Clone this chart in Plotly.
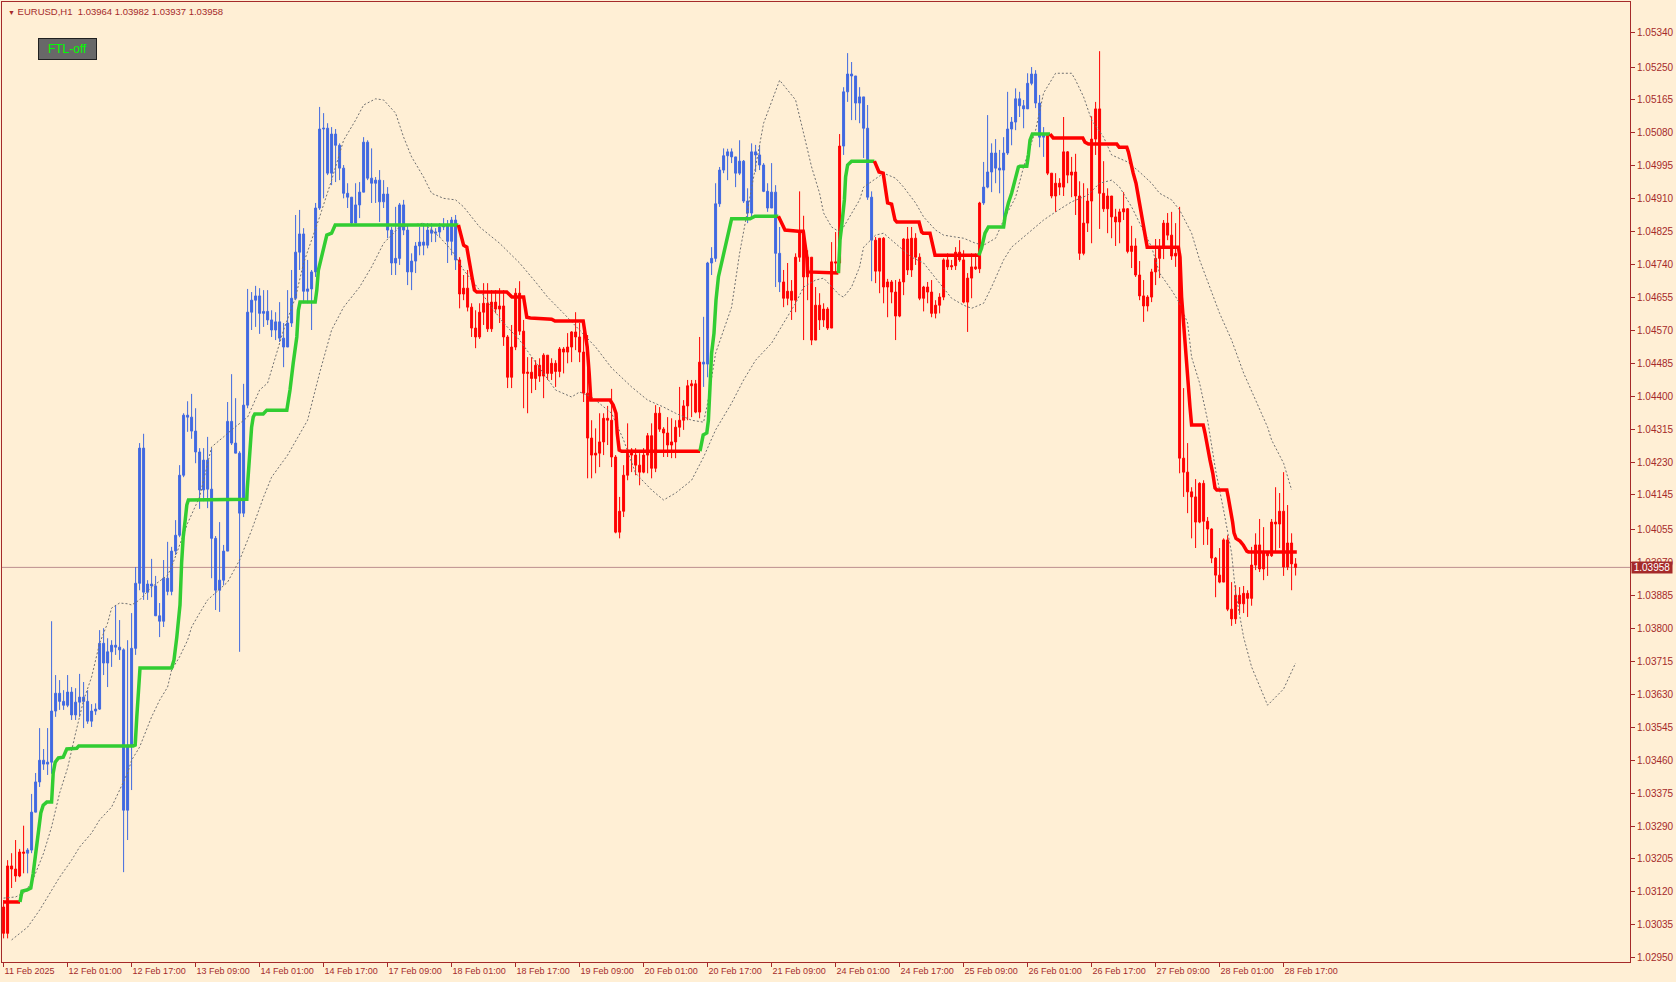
import plotly.graph_objects as go

# EURUSD H1, 11 Feb 2025 09:00 .. 28 Feb 2025 20:00 (one entry per hourly bar)
first_open = 1.03081

closes = [
    1.03013, 1.03187, 1.03179, 1.03161, 1.03223, 1.03220, 1.03228, 1.03326, 1.03404, 1.03460,
    1.03450, 1.03455, 1.03587, 1.03633, 1.03612, 1.03602, 1.03636, 1.03577, 1.03610, 1.03623,
    1.03612, 1.03561, 1.03587, 1.03592, 1.03762, 1.03711, 1.03740, 1.03757, 1.03752, 1.03745,
    1.03331, 1.03499, 1.03749, 1.03917, 1.04266, 1.03894, 1.03915, 1.03910, 1.03833, 1.03819,
    1.03930, 1.03896, 1.04000, 1.04041, 1.04196, 1.04351, 1.04346, 1.04310, 1.04256, 1.04158,
    1.04235, 1.04160, 1.04033, 1.03899, 1.03925, 1.04000, 1.04335, 1.04279, 1.04253, 1.04098,
    1.04377, 1.04617, 1.04648, 1.04659, 1.04614, 1.04619, 1.04597, 1.04571, 1.04592, 1.04550,
    1.04527, 1.04589, 1.04653, 1.04772, 1.04819, 1.04671, 1.04677, 1.04721, 1.04886, 1.05090,
    1.05092, 1.04976, 1.05077, 1.05048, 1.04989, 1.04924, 1.04914, 1.04847, 1.04894, 1.04927,
    1.05056, 1.04963, 1.04950, 1.04958, 1.04902, 1.04922, 1.04829, 1.04744, 1.04756, 1.04894,
    1.04829, 1.04721, 1.04749, 1.04788, 1.04798, 1.04790, 1.04829, 1.04821, 1.04824, 1.04837,
    1.04842, 1.04800, 1.04855, 1.04752, 1.04664, 1.04679, 1.04630, 1.04576, 1.04553, 1.04617,
    1.04640, 1.04574, 1.04643, 1.04625, 1.04633, 1.04553, 1.04449, 1.04527, 1.04666, 1.04568,
    1.04459, 1.04462, 1.04446, 1.04480, 1.04452, 1.04506, 1.04459, 1.04485, 1.04464, 1.04522,
    1.04514, 1.04527, 1.04566, 1.04553, 1.04514, 1.04408, 1.04292, 1.04248, 1.04253, 1.04282,
    1.04343, 1.04338, 1.04243, 1.04049, 1.04103, 1.04196, 1.04261, 1.04248, 1.04222, 1.04204,
    1.04248, 1.04298, 1.04214, 1.04356, 1.04315, 1.04305, 1.04274, 1.04282, 1.04320, 1.04338,
    1.04375, 1.04427, 1.04432, 1.04359, 1.04488, 1.04483, 1.04744, 1.04756, 1.04897, 1.04984,
    1.05021, 1.05031, 1.05018, 1.04976, 1.05007, 1.04904, 1.04873, 1.05031, 1.05023, 1.04997,
    1.04929, 1.04886, 1.04927, 1.04769, 1.04695, 1.04653, 1.04671, 1.04648, 1.04759, 1.04826,
    1.04708, 1.04759, 1.04545, 1.04635, 1.04597, 1.04625, 1.04576, 1.04747, 1.04744, 1.05046,
    1.05186, 1.05232, 1.05227, 1.05157, 1.05173, 1.05092, 1.04914, 1.04803, 1.04723, 1.04808,
    1.04682, 1.04695, 1.04669, 1.04607, 1.04695, 1.04806, 1.04726, 1.04808, 1.04759, 1.04653,
    1.04682, 1.04669, 1.04614, 1.04635, 1.04656, 1.04752, 1.04734, 1.04737, 1.04772, 1.04752,
    1.04643, 1.04705, 1.04734, 1.04729, 1.04899, 1.04940, 1.04979, 1.05028, 1.04989, 1.04984,
    1.05028, 1.05090, 1.05108, 1.05168, 1.05150, 1.05142, 1.05208, 1.05232, 1.05157, 1.05069,
    1.05074, 1.04976, 1.04917, 1.04950, 1.04940, 1.05031, 1.04971, 1.04979, 1.04917, 1.04769,
    1.04847, 1.04904, 1.05064, 1.05142, 1.04924, 1.04884, 1.04917, 1.04863, 1.04850, 1.04876,
    1.04884, 1.04774, 1.04788, 1.04713, 1.04659, 1.04633, 1.04656, 1.04721, 1.04756, 1.04785,
    1.04847, 1.04816, 1.04762, 1.04769, 1.04240, 1.04204, 1.04153, 1.04140, 1.04075, 1.04175,
    1.04077, 1.04057, 1.03982, 1.03938, 1.03920, 1.04029, 1.03850, 1.03825, 1.03886, 1.03864,
    1.03891, 1.03878, 1.03964, 1.04016, 1.03954, 1.03995, 1.03988, 1.04075, 1.04070, 1.04103,
    1.03959, 1.04021, 1.03967, 1.03958,
]

highs = [
    1.03099, 1.03202, 1.03220, 1.03254, 1.03231, 1.03291, 1.03233, 1.03373, 1.03427, 1.03543,
    1.03489, 1.03543, 1.03819, 1.03680, 1.03667, 1.03641, 1.03680, 1.03649, 1.03646, 1.03683,
    1.03662, 1.03641, 1.03605, 1.03607, 1.03796, 1.03801, 1.03775, 1.03770, 1.03861, 1.03822,
    1.03749, 1.03770, 1.03840, 1.03959, 1.04279, 1.04303, 1.03925, 1.03980, 1.03936, 1.03866,
    1.03977, 1.04024, 1.04011, 1.04080, 1.04222, 1.04356, 1.04387, 1.04406, 1.04369, 1.04266,
    1.04266, 1.04295, 1.04266, 1.04039, 1.04075, 1.04016, 1.04385, 1.04457, 1.04395, 1.04258,
    1.04432, 1.04677, 1.04669, 1.04685, 1.04679, 1.04674, 1.04674, 1.04622, 1.04617, 1.04643,
    1.04589, 1.04674, 1.04726, 1.04868, 1.04881, 1.04834, 1.04752, 1.04726, 1.04899, 1.05147,
    1.05131, 1.05105, 1.05095, 1.05090, 1.05053, 1.04997, 1.04950, 1.04899, 1.04950, 1.04953,
    1.05069, 1.05061, 1.05040, 1.04966, 1.04984, 1.04958, 1.04940, 1.04837, 1.04889, 1.04899,
    1.04907, 1.04842, 1.04769, 1.04798, 1.04837, 1.04847, 1.04847, 1.04847, 1.04834, 1.04847,
    1.04860, 1.04855, 1.04863, 1.04868, 1.04759, 1.04713, 1.04726, 1.04640, 1.04622, 1.04640,
    1.04692, 1.04692, 1.04674, 1.04674, 1.04679, 1.04674, 1.04558, 1.04584, 1.04679, 1.04697,
    1.04597, 1.04501, 1.04501, 1.04493, 1.04498, 1.04511, 1.04506, 1.04498, 1.04493, 1.04527,
    1.04527, 1.04563, 1.04568, 1.04617, 1.04589, 1.04597, 1.04558, 1.04338, 1.04317, 1.04356,
    1.04356, 1.04375, 1.04419, 1.04248, 1.04140, 1.04222, 1.04330, 1.04266, 1.04266, 1.04253,
    1.04266, 1.04305, 1.04330, 1.04377, 1.04372, 1.04320, 1.04346, 1.04343, 1.04338, 1.04424,
    1.04390, 1.04442, 1.04442, 1.04442, 1.04553, 1.04605, 1.04747, 1.04785, 1.04950, 1.04992,
    1.05040, 1.05039, 1.05040, 1.05010, 1.05061, 1.05010, 1.04937, 1.05053, 1.05049, 1.05049,
    1.05002, 1.04950, 1.05002, 1.04945, 1.04837, 1.04726, 1.04744, 1.04700, 1.04769, 1.04929,
    1.04866, 1.04777, 1.04682, 1.04682, 1.04666, 1.04640, 1.04630, 1.04798, 1.04824, 1.05077,
    1.05198, 1.05286, 1.05263, 1.05224, 1.05198, 1.05170, 1.05152, 1.04929, 1.04811, 1.04808,
    1.04811, 1.04703, 1.04700, 1.04700, 1.04703, 1.04808, 1.04837, 1.04837, 1.04821, 1.04769,
    1.04685, 1.04695, 1.04700, 1.04648, 1.04666, 1.04756, 1.04769, 1.04752, 1.04785, 1.04803,
    1.04777, 1.04718, 1.04769, 1.04769, 1.04902, 1.05005, 1.05126, 1.05053, 1.05064, 1.05036,
    1.05069, 1.05186, 1.05121, 1.05195, 1.05186, 1.05165, 1.05234, 1.05250, 1.05242, 1.05178,
    1.05095, 1.05074, 1.04976, 1.04976, 1.04963, 1.05121, 1.05033, 1.05018, 1.05026, 1.04955,
    1.04950, 1.04937, 1.05123, 1.05160, 1.05291, 1.05007, 1.04937, 1.04917, 1.04884, 1.04884,
    1.04927, 1.04886, 1.04840, 1.04808, 1.04749, 1.04700, 1.04661, 1.04729, 1.04806, 1.04806,
    1.04855, 1.04873, 1.04876, 1.04847, 1.04889, 1.04421, 1.04279, 1.04165, 1.04186, 1.04178,
    1.04183, 1.04088, 1.04059, 1.03985, 1.04008, 1.04033, 1.04041, 1.03920, 1.03912, 1.03907,
    1.03910, 1.03899, 1.04011, 1.04046, 1.04083, 1.04062, 1.03995, 1.04083, 1.04165, 1.04150,
    1.04204, 1.04119, 1.04046, 1.03982,
]

lows = [
    1.03000, 1.03000, 1.03130, 1.03146, 1.03158, 1.03168, 1.03168, 1.03220, 1.03326, 1.03391,
    1.03435, 1.03422, 1.03425, 1.03572, 1.03590, 1.03590, 1.03597, 1.03564, 1.03564, 1.03572,
    1.03543, 1.03554, 1.03546, 1.03577, 1.03590, 1.03680, 1.03649, 1.03701, 1.03732, 1.03719,
    1.03171, 1.03254, 1.03383, 1.03732, 1.03899, 1.03874, 1.03874, 1.03881, 1.03835, 1.03778,
    1.03804, 1.03886, 1.03886, 1.03990, 1.04036, 1.04191, 1.04308, 1.04290, 1.04227, 1.04109,
    1.04129, 1.04111, 1.03930, 1.03848, 1.03843, 1.03912, 1.04000, 1.04274, 1.04253, 1.03740,
    1.04088, 1.04369, 1.04571, 1.04579, 1.04561, 1.04579, 1.04584, 1.04553, 1.04545, 1.04540,
    1.04475, 1.04527, 1.04579, 1.04648, 1.04726, 1.04640, 1.04640, 1.04571, 1.04708, 1.04881,
    1.04911, 1.04971, 1.04945, 1.04953, 1.04958, 1.04911, 1.04886, 1.04845, 1.04860, 1.04860,
    1.04932, 1.04958, 1.04899, 1.04899, 1.04850, 1.04886, 1.04808, 1.04713, 1.04713, 1.04739,
    1.04816, 1.04687, 1.04674, 1.04718, 1.04764, 1.04764, 1.04782, 1.04798, 1.04798, 1.04811,
    1.04829, 1.04744, 1.04764, 1.04726, 1.04627, 1.04648, 1.04619, 1.04553, 1.04524, 1.04548,
    1.04584, 1.04566, 1.04566, 1.04614, 1.04589, 1.04530, 1.04421, 1.04421, 1.04519, 1.04558,
    1.04369, 1.04356, 1.04408, 1.04416, 1.04437, 1.04395, 1.04442, 1.04442, 1.04424, 1.04449,
    1.04459, 1.04485, 1.04488, 1.04519, 1.04488, 1.04385, 1.04188, 1.04188, 1.04201, 1.04217,
    1.04248, 1.04274, 1.04217, 1.04046, 1.04033, 1.04088, 1.04183, 1.04204, 1.04196, 1.04170,
    1.04201, 1.04201, 1.04188, 1.04204, 1.04308, 1.04243, 1.04243, 1.04240, 1.04240, 1.04295,
    1.04313, 1.04338, 1.04346, 1.04356, 1.04343, 1.04424, 1.04449, 1.04713, 1.04747, 1.04889,
    1.04976, 1.04958, 1.05002, 1.04940, 1.04971, 1.04899, 1.04847, 1.04863, 1.04979, 1.04984,
    1.04927, 1.04876, 1.04894, 1.04682, 1.04669, 1.04630, 1.04635, 1.04597, 1.04617, 1.04747,
    1.04545, 1.04648, 1.04532, 1.04545, 1.04571, 1.04579, 1.04571, 1.04597, 1.04718, 1.04718,
    1.05023, 1.05160, 1.05113, 1.05113, 1.05105, 1.05015, 1.04907, 1.04697, 1.04692, 1.04666,
    1.04640, 1.04604, 1.04640, 1.04545, 1.04604, 1.04661, 1.04713, 1.04708, 1.04739, 1.04648,
    1.04619, 1.04640, 1.04604, 1.04601, 1.04614, 1.04648, 1.04726, 1.04726, 1.04726, 1.04747,
    1.04640, 1.04566, 1.04653, 1.04726, 1.04718, 1.04894, 1.04937, 1.04927, 1.04950, 1.04924,
    1.04855, 1.05023, 1.05048, 1.05087, 1.05121, 1.05092, 1.05144, 1.05203, 1.05144, 1.05043,
    1.05018, 1.04971, 1.04911, 1.04876, 1.04919, 1.04917, 1.04950, 1.04914, 1.04868, 1.04752,
    1.04764, 1.04824, 1.04795, 1.05023, 1.04832, 1.04876, 1.04821, 1.04808, 1.04788, 1.04795,
    1.04855, 1.04769, 1.04731, 1.04708, 1.04648, 1.04592, 1.04619, 1.04643, 1.04687, 1.04705,
    1.04754, 1.04803, 1.04752, 1.04734, 1.04201, 1.04140, 1.04098, 1.04033, 1.04008, 1.04072,
    1.04016, 1.04016, 1.03969, 1.03881, 1.03917, 1.03938, 1.03845, 1.03807, 1.03812, 1.03840,
    1.03840, 1.03830, 1.03859, 1.03951, 1.03946, 1.03925, 1.03936, 1.03985, 1.03998, 1.04008,
    1.03936, 1.03951, 1.03899, 1.03937,
]

# bar ranges painted blue (up-trend); all other bars are red
blue_runs = [(6, 113), (175, 194), (210, 217), (245, 260)]

# FTL trend line vertices (bar, price) and the stretches where it is green
trend_pts = [
    (0, 1.03094), (4.1, 1.03094), (4.6, 1.03122), (5.8, 1.03125), (6.8, 1.03130), (7.4, 1.03168),
    (8.1, 1.03228), (8.7, 1.03288), (9.3, 1.03324), (9.9, 1.03344), (10.8, 1.03352), (12.0, 1.03352),
    (12.4, 1.03427), (12.9, 1.03455), (13.7, 1.03466), (14.9, 1.03468), (15.8, 1.03489), (18.3, 1.03491),
    (18.8, 1.03497), (32.4, 1.03497), (32.9, 1.03499), (33.3, 1.03572), (33.7, 1.03623), (34.1, 1.03698),
    (42.0, 1.03698), (42.6, 1.03719), (43.3, 1.03778), (44.1, 1.03861), (44.5, 1.03969), (44.9, 1.04036),
    (45.4, 1.04080), (45.8, 1.04119), (46.2, 1.04132), (60.8, 1.04134), (60.9, 1.04158), (61.2, 1.04209),
    (61.6, 1.04279), (62.0, 1.04320), (62.4, 1.04346), (62.8, 1.04354), (64.9, 1.04354), (65.8, 1.04364),
    (70.8, 1.04364), (71.6, 1.04416), (72.4, 1.04485), (73.3, 1.04553), (73.7, 1.04622), (74.1, 1.04643),
    (77.9, 1.04643), (78.3, 1.04674), (78.7, 1.04726), (79.5, 1.04759), (80.4, 1.04795), (80.8, 1.04816),
    (82.0, 1.04821), (82.9, 1.04842), (113.7, 1.04842),
    (114.6, 1.04811), (115.0, 1.04790), (115.8, 1.04785), (116.4, 1.04744), (117.1, 1.04708),
    (117.7, 1.04674), (118.3, 1.04669), (125.8, 1.04669), (127.1, 1.04656), (130.0, 1.04656),
    (130.8, 1.04604), (131.7, 1.04602), (137.0, 1.04599), (137.85, 1.04594), (144.9, 1.04594),
    (145.35, 1.04563), (145.9, 1.04527), (146.4, 1.04459), (146.8, 1.04390), (151.6, 1.04390),
    (152.4, 1.04377), (153.1, 1.04356), (153.4, 1.04305), (153.9, 1.04261), (154.5, 1.04258),
    (174.1, 1.04258),
    (174.5, 1.04287), (174.9, 1.04300), (175.8, 1.04305), (176.2, 1.04338), (176.6, 1.04424),
    (177.0, 1.04511), (177.6, 1.04563), (178.1, 1.04648), (178.7, 1.04708), (179.5, 1.04744),
    (180.35, 1.04777), (181.2, 1.04821), (182.0, 1.04858), (186.6, 1.04858), (187.85, 1.04865),
    (193.7, 1.04865),
    (194.5, 1.04847), (195.35, 1.04829), (198.7, 1.04826), (199.9, 1.04826), (200.8, 1.04759),
    (201.0, 1.04721), (208.7, 1.04718),
    (209.1, 1.04803), (209.5, 1.04837), (210.2, 1.04907), (210.5, 1.04966), (211.0, 1.04997),
    (212.0, 1.05007), (217.7, 1.05007),
    (218.3, 1.04992), (218.85, 1.04979), (219.9, 1.04976), (220.5, 1.04924), (221.0, 1.04899),
    (222.0, 1.04896), (222.85, 1.04855), (223.3, 1.04850), (228.85, 1.04850), (229.5, 1.04824),
    (229.9, 1.04821), (231.6, 1.04821), (232.2, 1.04795), (232.85, 1.04764), (243.8, 1.04764),
    (244.5, 1.04783), (245.35, 1.04821), (246.2, 1.04837), (250.0, 1.04837), (250.35, 1.04863),
    (251.2, 1.04899), (252.0, 1.04924), (252.85, 1.04958), (253.7, 1.04992), (254.1, 1.04994),
    (255.8, 1.04994), (256.2, 1.05023), (256.6, 1.05061), (257.2, 1.05077), (261.6, 1.05077),
    (262.4, 1.05067), (269.8, 1.05067), (270.35, 1.05056), (271.2, 1.05051), (278.3, 1.05051),
    (278.9, 1.05043), (280.8, 1.05043), (281.2, 1.05031), (281.8, 1.05002), (282.4, 1.04976),
    (283.1, 1.04950), (283.7, 1.04914), (284.3, 1.04881), (284.9, 1.04842), (285.6, 1.04811),
    (285.9, 1.04785), (293.7, 1.04785), (294.1, 1.04759), (294.5, 1.04656), (294.9, 1.04597),
    (295.35, 1.04553), (295.8, 1.04493), (296.2, 1.04434), (296.6, 1.04372), (297.0, 1.04326),
    (299.9, 1.04326), (300.35, 1.04305), (300.9, 1.04269), (301.6, 1.04235), (302.3, 1.04201),
    (302.85, 1.04163), (303.3, 1.04158), (305.8, 1.04158), (306.2, 1.04137), (306.8, 1.04106),
    (307.25, 1.04075), (307.6, 1.04047), (308.1, 1.04033), (309.1, 1.04026), (309.9, 1.04016),
    (310.8, 1.04000), (311.2, 1.03998), (323.3, 1.03998),
]
trend_up_runs = [(4.1, 113.7), (174.1, 193.7), (208.7, 217.7), (243.8, 261.6)]

# dotted envelope lines (bar, price)
upper_band = [
    (0, 1.03104), (3, 1.03107), (5, 1.03117), (7, 1.03143), (10, 1.03220), (12, 1.03288),
    (14, 1.03375), (16, 1.03440), (18, 1.03530), (20, 1.03615), (22, 1.03675), (24, 1.03762),
    (26, 1.03814), (27, 1.03853), (29, 1.03866), (31, 1.03864), (32, 1.03861), (34, 1.03874),
    (37, 1.03907), (41, 1.03938), (42, 1.03959), (46, 1.04072), (49, 1.04140), (52, 1.04269),
    (55, 1.04295), (57, 1.04313), (61, 1.04346), (64, 1.04416), (66, 1.04434), (68, 1.04501),
    (70, 1.04571), (73, 1.04656), (75, 1.04744), (79, 1.04863), (82, 1.04958), (85, 1.05061),
    (88, 1.05113), (90, 1.05152), (93, 1.05168), (95, 1.05165), (98, 1.05131), (100, 1.05069),
    (102, 1.05018), (105, 1.04966), (107, 1.04924), (110, 1.04911), (113, 1.04907), (115, 1.04889),
    (119, 1.04837), (124, 1.04795), (129, 1.04744), (133, 1.04695), (136, 1.04656), (140, 1.04614),
    (144, 1.04571), (148, 1.04527), (152, 1.04473), (157, 1.04424), (161, 1.04390), (165, 1.04372),
    (168, 1.04356), (172, 1.04338), (175, 1.04333), (176, 1.04382), (178, 1.04511), (182, 1.04630),
    (184, 1.04769), (187, 1.04940), (190, 1.05105), (194, 1.05216), (198, 1.05165), (200, 1.05079),
    (202, 1.04992), (204, 1.04924), (205, 1.04873), (207, 1.04837), (209, 1.04824), (210, 1.04837),
    (212, 1.04873), (214, 1.04907), (215, 1.04940), (218, 1.04963), (220, 1.04976), (223, 1.04963),
    (225, 1.04940), (228, 1.04899), (230, 1.04863), (233, 1.04829), (235, 1.04816), (238, 1.04811),
    (240, 1.04808), (243, 1.04795), (245, 1.04790), (248, 1.04808), (250, 1.04855), (253, 1.04914),
    (255, 1.04992), (258, 1.05087), (260, 1.05183), (263, 1.05234), (267, 1.05234), (268, 1.05216),
    (270, 1.05173), (272, 1.05113), (275, 1.05069), (277, 1.05023), (281, 1.05005), (284, 1.04979),
    (287, 1.04950), (289, 1.04924), (292, 1.04907), (294, 1.04881), (297, 1.04821), (299, 1.04752),
    (302, 1.04666), (304, 1.04614), (307, 1.04545), (310, 1.04460), (313, 1.04390), (316, 1.04320),
    (317, 1.04287), (320, 1.04227), (322, 1.04158),
]
lower_band = [
    (2, 1.02996), (6, 1.03029), (9, 1.03073), (12, 1.03125), (14, 1.03158), (17, 1.03202),
    (19, 1.03236), (22, 1.03272), (24, 1.03306), (27, 1.03339), (29, 1.03383), (31, 1.03427),
    (32, 1.03460), (34, 1.03494), (36, 1.03546), (37, 1.03572), (39, 1.03615), (41, 1.03649),
    (42, 1.03693), (44, 1.03727), (46, 1.03770), (47, 1.03804), (49, 1.03840), (51, 1.03874),
    (56, 1.03920), (59, 1.03977), (62, 1.04054), (65, 1.04140), (67, 1.04191), (71, 1.04248),
    (76, 1.04338), (79, 1.04460), (82, 1.04571), (85, 1.04630), (89, 1.04682), (92, 1.04734),
    (95, 1.04795), (99, 1.04837), (102, 1.04842), (105, 1.04847), (109, 1.04811), (112, 1.04777),
    (115, 1.04726), (119, 1.04674), (122, 1.04630), (125, 1.04589), (129, 1.04545), (132, 1.04501),
    (138, 1.04416), (142, 1.04398), (144, 1.04411), (147, 1.04398), (152, 1.04356), (155, 1.04287),
    (158, 1.04201), (162, 1.04158), (165, 1.04132), (168, 1.04150), (172, 1.04183), (175, 1.04243),
    (178, 1.04313), (182, 1.04382), (185, 1.04442), (188, 1.04493), (192, 1.04537), (195, 1.04589),
    (198, 1.04640), (200, 1.04682), (203, 1.04700), (205, 1.04705), (209, 1.04661), (210, 1.04656),
    (212, 1.04682), (214, 1.04734), (215, 1.04785), (218, 1.04816), (220, 1.04821), (222, 1.04803),
    (225, 1.04777), (227, 1.04759), (230, 1.04744), (232, 1.04718), (235, 1.04682), (237, 1.04653),
    (240, 1.04635), (242, 1.04627), (245, 1.04640), (247, 1.04682), (250, 1.04752), (252, 1.04785),
    (255, 1.04811), (257, 1.04829), (260, 1.04855), (263, 1.04876), (267, 1.04902), (271, 1.04919),
    (274, 1.04950), (277, 1.04958), (279, 1.04940), (282, 1.04889), (284, 1.04847), (287, 1.04785),
    (289, 1.04718), (292, 1.04674), (294, 1.04640), (296, 1.04589), (297, 1.04501), (299, 1.04434),
    (301, 1.04338), (303, 1.04209), (305, 1.04106), (307, 1.03995), (308, 1.03892), (310, 1.03778),
    (312, 1.03701), (316, 1.03602), (320, 1.03644), (323, 1.03711),
]

x_tick_labels = [
    "11 Feb 2025", "12 Feb 01:00", "12 Feb 17:00", "13 Feb 09:00", "14 Feb 01:00", "14 Feb 17:00",
    "17 Feb 09:00", "18 Feb 01:00", "18 Feb 17:00", "19 Feb 09:00", "20 Feb 01:00", "20 Feb 17:00",
    "21 Feb 09:00", "24 Feb 01:00", "24 Feb 17:00", "25 Feb 09:00", "26 Feb 01:00", "26 Feb 17:00",
    "27 Feb 09:00", "28 Feb 01:00", "28 Feb 17:00",
]
y_tick_labels = [
    "1.05340", "1.05250", "1.05165", "1.05080", "1.04995", "1.04910", "1.04825", "1.04740",
    "1.04655", "1.04570", "1.04485", "1.04400", "1.04315", "1.04230", "1.04145", "1.04055",
    "1.03970", "1.03885", "1.03800", "1.03715", "1.03630", "1.03545", "1.03460", "1.03375",
    "1.03290", "1.03205", "1.03120", "1.03035", "1.02950",
]
header_ohlc = ["1.03964", "1.03982", "1.03937", "1.03958"]
last_price = 1.03958

BG = "#FFEFD5"
FG = "#A52A2A"
BLUE = "#4169E1"
RED = "#FF0000"
GREEN = "#32CD32"
GREY = "#707070"

n = len(closes)
opens = [first_open] + closes[:-1]  # hourly FX bars open at the previous close
hi = [max(h, o, c) for h, o, c in zip(highs, opens, closes)]
lo = [min(l, o, c) for l, o, c in zip(lows, opens, closes)]
is_blue = [any(a <= i <= b for a, b in blue_runs) for i in range(n)]

fig = go.Figure()

fig.add_hline(y=last_price, line=dict(color="#BC8F8F", width=1), layer="below")

for flag, col in ((True, BLUE), (False, RED)):
    idx = [i for i in range(n) if is_blue[i] == flag]
    style = dict(line=dict(color=col, width=1), fillcolor=col)
    fig.add_trace(go.Candlestick(
        x=idx,
        open=[opens[i] for i in idx],
        high=[hi[i] for i in idx],
        low=[lo[i] for i in idx],
        close=[closes[i] for i in idx],
        increasing=style, decreasing=style,
        whiskerwidth=0, hoverinfo="skip", showlegend=False,
    ))

for band in (upper_band, lower_band):
    fig.add_trace(go.Scatter(
        x=[b for b, _ in band], y=[p for _, p in band], mode="lines",
        line=dict(color=GREY, width=1, dash="2px,2px"),
        hoverinfo="skip", showlegend=False,
    ))


def _is_up(b):
    return any(a <= b <= z for a, z in trend_up_runs)


# split the trend line into green / red pieces
runs = []
for i in range(len(trend_pts) - 1):
    mid = (trend_pts[i][0] + trend_pts[i + 1][0]) / 2
    col = GREEN if _is_up(mid) else RED
    if runs and runs[-1][0] == col:
        runs[-1][1].append(i + 1)
    else:
        runs.append([col, [i, i + 1]])
for col, ids in runs:
    fig.add_trace(go.Scatter(
        x=[trend_pts[k][0] for k in ids], y=[trend_pts[k][1] for k in ids], mode="lines",
        line=dict(color=col, width=3.5), hoverinfo="skip", showlegend=False,
    ))

fig.add_annotation(
    text="<span style='font-size:7px'>▼</span>\u00a0EURUSD,H1\u00a0\u00a0" + "\u00a0".join(header_ohlc),
    xref="paper", yref="paper", x=0.0025, y=0.9906, xanchor="left", yanchor="middle",
    showarrow=False, font=dict(size=9.5, color=FG),
)
fig.add_annotation(
    text="FTL-off", xref="paper", yref="paper", x=0.0402, y=0.951,
    xanchor="center", yanchor="middle", showarrow=False,
    width=57, height=20, bgcolor="#686868", bordercolor="#202020", borderwidth=1, borderpad=0,
    font=dict(size=12, color="#00FF00"),
)
fig.add_annotation(
    text=f"{last_price:.5f}", xref="paper", yref="y", x=1, y=last_price,
    xanchor="left", yanchor="middle", xshift=1, showarrow=False,
    width=40, height=11, bgcolor="#A52A2A", borderpad=0,
    font=dict(size=10, color="white"),
)

fig.update_layout(
    width=1676, height=982,
    margin=dict(l=2, r=46, t=2, b=20),
    paper_bgcolor=BG, plot_bgcolor=BG,
    font=dict(family="Liberation Sans", color=FG),
    showlegend=False, hovermode=False,
    xaxis=dict(
        range=[-0.4, 406.6], rangeslider=dict(visible=False),
        tickmode="array", tickvals=list(range(0, 16 * len(x_tick_labels), 16)), ticktext=x_tick_labels,
        ticks="outside", ticklen=4, tickcolor=FG, ticklabelposition="outside right",
        tickfont=dict(size=9, color=FG),
        showline=True, linecolor=FG, linewidth=1, mirror=True,
        showgrid=False, zeroline=False,
    ),
    yaxis=dict(
        range=[1.02939, 1.05418], side="right",
        tickmode="array", tickvals=[float(t) for t in y_tick_labels], ticktext=y_tick_labels,
        ticks="outside", ticklen=4, tickcolor=FG,
        tickfont=dict(size=10, color=FG),
        showline=True, linecolor=FG, linewidth=1, mirror=True,
        showgrid=False, zeroline=False,
    ),
)

fig.write_html("out.html", config={"displayModeBar": False},
               post_script="document.body.style.margin='0';")
